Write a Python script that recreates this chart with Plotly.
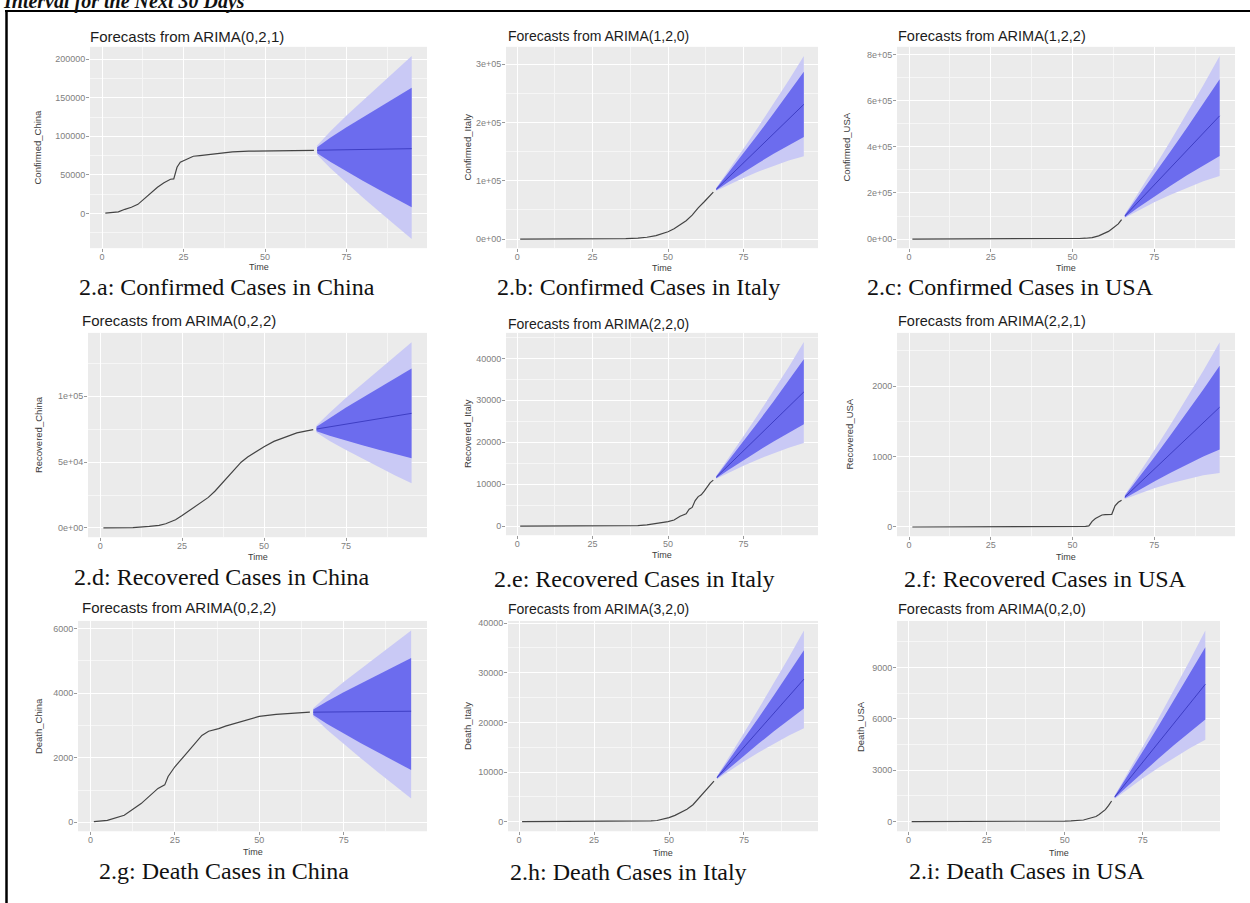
import plotly.graph_objects as go

W, H = 1250, 903

# ---------------- data ----------------
FC_T = [66, 70, 75, 80, 85, 90, 95]

# 2.a Confirmed China  ARIMA(0,2,1)
china_conf_t = [1, 3, 5, 7, 9, 11, 13, 15, 17, 19, 21, 22, 23, 24, 26, 28, 30, 35, 40, 45, 50, 55, 60, 65]
china_conf = [550, 900, 2100, 5500, 8100, 11900, 19700, 27400, 34100, 39800, 44400, 44800, 59900, 66400,
              70500, 74200, 75100, 77800, 79900, 80700, 80900, 81000, 81300, 81800]
china_conf_mean = [82000, 82300, 82600, 82900, 83300, 83600, 84000]
china_conf_hi80 = [85950, 98100, 111830, 124770, 137810, 150750, 163000]
china_conf_lo80 = [78200, 67100, 54480, 42620, 30860, 19000, 8000]
china_conf_hi95 = [88000, 106300, 127000, 146500, 166100, 185600, 204000]
china_conf_lo95 = [76150, 58900, 39310, 20890, 2570, -15850, -33000]

# 2.b Confirmed Italy  ARIMA(1,2,0)
italy_conf_t = [1, 10, 20, 30, 33, 36, 40, 43, 46, 48, 50, 52, 54, 56, 58, 60, 62, 64, 65]
italy_conf = [0, 3, 3, 3, 155, 650, 1700, 3100, 5900, 9200, 12500, 17700, 24700, 31500, 41000, 53600,
              63900, 74400, 80600]
italy_conf_mean = [85500, 105600, 130700, 155800, 180900, 206000, 231000]
italy_conf_hi80 = [87180, 113440, 146940, 181000, 215620, 250800, 287000]
italy_conf_lo80 = [83820, 97760, 114460, 130600, 146180, 161200, 175000]
italy_conf_hi95 = [87990, 117220, 154770, 193150, 232360, 272400, 314000]
italy_conf_lo95 = [82830, 93140, 104890, 115750, 125720, 134800, 142000]

# 2.c Confirmed USA  ARIMA(1,2,2)
usa_conf_t = [1, 10, 20, 30, 40, 45, 48, 50, 52, 54, 56, 58, 60, 61, 62, 63, 64, 65]
usa_conf = [1, 8, 13, 15, 30, 217, 600, 1300, 2200, 3500, 6400, 13700, 25500, 33300, 43800, 53700,
            65800, 83800]
usa_conf_mean = [100000, 160000, 235000, 310000, 385000, 460000, 535000]
usa_conf_hi80 = [104770, 182260, 281110, 381550, 483580, 587200, 694000]
usa_conf_lo80 = [94780, 135640, 184540, 231700, 277120, 320800, 361000]
usa_conf_hi95 = [107800, 196400, 310400, 427000, 546200, 668000, 795000]
usa_conf_lo95 = [92170, 123460, 159310, 192550, 223180, 251200, 274000]

# 2.d Recovered China  ARIMA(0,2,2)
china_rec_t = [1, 5, 10, 15, 18, 20, 23, 25, 28, 30, 33, 35, 38, 40, 43, 45, 48, 50, 53, 55, 58, 60, 63, 65]
china_rec = [28, 50, 250, 1150, 2000, 3200, 6200, 9400, 14400, 18200, 23200, 27900, 36100, 42200, 49900,
             53900, 58800, 61700, 65700, 67700, 70500, 72200, 73700, 74700]
china_rec_mean = [75100, 76700, 78800, 80800, 82900, 84900, 87000]
china_rec_hi80 = [76800, 83500, 91380, 98820, 106360, 113800, 121000]
china_rec_lo80 = [73400, 69900, 66220, 62780, 59440, 56000, 53000]
china_rec_hi95 = [77800, 87500, 98780, 109420, 120160, 130800, 141000]
china_rec_lo95 = [72450, 66100, 59190, 52710, 46330, 39850, 34000]

# 2.e Recovered Italy  ARIMA(2,2,0)
italy_rec_t = [1, 10, 20, 30, 38, 40, 43, 45, 47, 49, 50, 52, 54, 56, 57, 58, 59, 60, 61, 62, 63, 64, 65]
italy_rec = [0, 0, 0, 1, 45, 83, 276, 523, 622, 1004, 1045, 1439, 2335, 2941, 4025, 4440, 6072, 7024,
             7432, 8326, 9362, 10361, 10950]
italy_rec_mean = [11650, 14450, 17950, 21450, 24950, 28450, 32000]
italy_rec_hi80 = [11884, 15542, 20212, 24960, 29786, 34690, 39800]
italy_rec_lo80 = [11419, 13372, 15717, 17985, 20176, 22290, 24300]
italy_rec_hi95 = [12007, 16116, 21401, 26805, 32328, 37970, 43900]
italy_rec_lo95 = [11284, 12742, 14412, 15960, 17386, 18690, 19800]

# 2.f Recovered USA  ARIMA(2,2,1)
usa_rec_t = [1, 30, 31, 54, 55, 56, 57, 58, 59, 60, 61, 62, 63, 64, 65]
usa_rec = [0, 0, 6, 8, 15, 80, 120, 150, 170, 175, 178, 180, 300, 350, 380]
usa_rec_mean = [425, 600, 820, 1040, 1260, 1480, 1700]
usa_rec_hi80 = [443, 683, 991, 1306, 1626, 1952, 2290]
usa_rec_lo80 = [407, 516, 646, 770, 888, 1000, 1100]
usa_rec_hi95 = [453, 729, 1088, 1456, 1833, 2219, 2624]
usa_rec_lo95 = [397, 469, 549, 620, 682, 734, 767]

# 2.g Death China  ARIMA(0,2,2)
china_death_t = [1, 5, 10, 15, 20, 22, 23, 25, 28, 30, 33, 35, 38, 40, 45, 50, 55, 60, 65]
china_death = [20, 60, 220, 580, 1050, 1160, 1420, 1720, 2080, 2320, 2690, 2820, 2900, 2980, 3130, 3280,
               3340, 3380, 3410]
china_death_mean = [3411, 3415, 3420, 3425, 3430, 3435, 3440]
china_death_hi80 = [3494, 3745, 4031, 4300, 4569, 4838, 5090]
china_death_lo80 = [3320, 3051, 2747, 2460, 2174, 1888, 1620]
china_death_hi95 = [3536, 3915, 4345, 4750, 5155, 5560, 5940]
china_death_lo95 = [3276, 2875, 2421, 1994, 1567, 1140, 740]

# 2.h Death Italy  ARIMA(3,2,0)
italy_death_t = [1, 20, 30, 32, 35, 38, 40, 42, 44, 46, 48, 50, 52, 54, 56, 58, 60, 62, 64, 65]
italy_death = [0, 0, 1, 3, 12, 29, 34, 79, 148, 233, 463, 827, 1266, 1809, 2503, 3405, 4825, 6077, 7503, 8165]
italy_death_mean = [8850, 11590, 15010, 18430, 21850, 25270, 28700]
italy_death_hi80 = [9024, 12402, 16692, 21040, 25446, 29910, 34500]
italy_death_lo80 = [8673, 10764, 13299, 15775, 18192, 20550, 22800]
italy_death_hi95 = [9144, 12962, 17852, 22840, 27926, 33110, 38500]
italy_death_lo95 = [8553, 10204, 12139, 13975, 15712, 17350, 18800]

# 2.i Death USA  ARIMA(0,2,0)
usa_death_t = [1, 20, 30, 38, 40, 45, 50, 52, 54, 56, 58, 60, 61, 62, 63, 64, 65]
usa_death = [0, 0, 0, 0, 1, 12, 36, 50, 63, 97, 200, 302, 414, 553, 704, 942, 1209]
usa_death_mean = [1440, 2340, 3480, 4610, 5750, 6880, 8020]
usa_death_hi80 = [1505, 2642, 4106, 5582, 7089, 8608, 10180]
usa_death_lo80 = [1378, 2052, 2883, 3683, 4473, 5232, 5960]
usa_death_hi95 = [1534, 2780, 4391, 6023, 7697, 9392, 11160]
usa_death_lo95 = [1343, 1886, 2540, 3152, 3741, 4288, 4780]

# tick labels
x_ticks = [0, 25, 50, 75]
y_ticks = [
    ([0, 50000, 100000, 150000, 200000], ["0", "50000", "100000", "150000", "200000"]),
    ([0, 100000, 200000, 300000], ["0e+00", "1e+05", "2e+05", "3e+05"]),
    ([0, 200000, 400000, 600000, 800000], ["0e+00", "2e+05", "4e+05", "6e+05", "8e+05"]),
    ([0, 50000, 100000], ["0e+00", "5e+04", "1e+05"]),
    ([0, 10000, 20000, 30000, 40000], ["0", "10000", "20000", "30000", "40000"]),
    ([0, 1000, 2000], ["0", "1000", "2000"]),
    ([0, 2000, 4000, 6000], ["0", "2000", "4000", "6000"]),
    ([0, 10000, 20000, 30000, 40000], ["0", "10000", "20000", "30000", "40000"]),
    ([0, 3000, 6000, 9000], ["0", "3000", "6000", "9000"]),
]

titles = ["Forecasts from ARIMA(0,2,1)", "Forecasts from ARIMA(1,2,0)", "Forecasts from ARIMA(1,2,2)",
          "Forecasts from ARIMA(0,2,2)", "Forecasts from ARIMA(2,2,0)", "Forecasts from ARIMA(2,2,1)",
          "Forecasts from ARIMA(0,2,2)", "Forecasts from ARIMA(3,2,0)", "Forecasts from ARIMA(0,2,0)"]
y_titles = ["Confirmed_China", "Confirmed_Italy", "Confirmed_USA",
            "Recovered_China", "Recovered_Italy", "Recovered_USA",
            "Death_China", "Death_Italy", "Death_USA"]
captions = ["2.a: Confirmed Cases in China", "2.b: Confirmed Cases in Italy", "2.c: Confirmed Cases in USA",
            "2.d: Recovered Cases in China", "2.e: Recovered Cases in Italy", "2.f: Recovered Cases in USA",
            "2.g: Death Cases in China", "2.h: Death Cases in Italy", "2.i: Death Cases in USA"]

series = [
    (china_conf_t, china_conf, china_conf_mean, china_conf_lo80, china_conf_hi80, china_conf_lo95, china_conf_hi95),
    (italy_conf_t, italy_conf, italy_conf_mean, italy_conf_lo80, italy_conf_hi80, italy_conf_lo95, italy_conf_hi95),
    (usa_conf_t, usa_conf, usa_conf_mean, usa_conf_lo80, usa_conf_hi80, usa_conf_lo95, usa_conf_hi95),
    (china_rec_t, china_rec, china_rec_mean, china_rec_lo80, china_rec_hi80, china_rec_lo95, china_rec_hi95),
    (italy_rec_t, italy_rec, italy_rec_mean, italy_rec_lo80, italy_rec_hi80, italy_rec_lo95, italy_rec_hi95),
    (usa_rec_t, usa_rec, usa_rec_mean, usa_rec_lo80, usa_rec_hi80, usa_rec_lo95, usa_rec_hi95),
    (china_death_t, china_death, china_death_mean, china_death_lo80, china_death_hi80, china_death_lo95, china_death_hi95),
    (italy_death_t, italy_death, italy_death_mean, italy_death_lo80, italy_death_hi80, italy_death_lo95, italy_death_hi95),
    (usa_death_t, usa_death, usa_death_mean, usa_death_lo80, usa_death_hi80, usa_death_lo95, usa_death_hi95),
]

# ---------------- layout (pixels) ----------------
# panel boxes: x0, x1, y0(top), y1(bottom)
boxes = [
    (90, 427, 44, 246), (506, 818, 44, 246), (897, 1235, 44, 246),
    (88, 427, 331, 536), (506, 818, 331, 534), (897, 1235, 331, 535),
    (78, 427, 620, 831), (508, 818, 620, 831), (897, 1220, 620, 831),
]
title_pos = [(88, 34, 15), (506, 33, 14), (896, 33, 14.5),
             (80, 319, 15), (506, 322, 14), (896, 319, 14.5),
             (80, 607, 15), (506, 608, 14), (896, 608, 14.5)]
ytitle_x = [38, 468, 847, 38, 467, 850, 38, 467, 860]
time_y = [265, 266, 266, 556, 554, 556, 852, 853, 853]
caption_pos = [(77, 285), (495, 285), (865, 285),
               (72, 576), (492, 578), (902, 578),
               (97, 871), (508, 872), (907, 871)]

C_DARK = "#6C6CEE"
C_LIGHT = "#C9C9F5"
C_MEAN = "#3E3EC4"
C_OBS = "#444444"
BG = "#EBEBEB"


def px_x(v):
    return v / W


def px_y(v):
    return 1 - v / H


fig = go.Figure()
annotations = []
layout_axes = {}

for i in range(9):
    n = i + 1
    xa = "x" if n == 1 else f"x{n}"
    ya = "y" if n == 1 else f"y{n}"
    t, obs, mean, lo80, hi80, lo95, hi95 = series[i]

    fig.add_trace(go.Scatter(x=FC_T + FC_T[::-1], y=hi95 + lo95[::-1], fill="toself",
                             fillcolor=C_LIGHT, line=dict(width=0), mode="lines",
                             hoverinfo="skip", showlegend=False, xaxis=xa, yaxis=ya))
    fig.add_trace(go.Scatter(x=FC_T + FC_T[::-1], y=hi80 + lo80[::-1], fill="toself",
                             fillcolor=C_DARK, line=dict(width=0), mode="lines",
                             hoverinfo="skip", showlegend=False, xaxis=xa, yaxis=ya))
    fig.add_trace(go.Scatter(x=FC_T, y=mean, mode="lines", line=dict(color=C_MEAN, width=1),
                             showlegend=False, xaxis=xa, yaxis=ya))
    fig.add_trace(go.Scatter(x=t, y=obs, mode="lines", line=dict(color=C_OBS, width=1.2),
                             showlegend=False, xaxis=xa, yaxis=ya))

    allv = obs + lo95 + hi95
    lo, hi = min(allv), max(allv)
    pad = 0.05 * (hi - lo)
    xlo, xhi = 1, 95
    xpad = 0.05 * (xhi - xlo)

    x0, x1, y0, y1 = boxes[i]
    tv, tt = y_ticks[i]
    step = tv[1] - tv[0]
    yminor = [tv[0] - step / 2] + [v + step / 2 for v in tv]

    tickfont = dict(family="Liberation Sans, Arial", size=9, color="#808080")
    layout_axes["xaxis" if n == 1 else f"xaxis{n}"] = dict(
        domain=[px_x(x0), px_x(x1)], anchor=ya, range=[xlo - xpad, xhi + xpad],
        tickmode="array", tickvals=x_ticks, ticktext=[str(v) for v in x_ticks],
        ticks="outside", ticklen=3, tickwidth=1, tickcolor="#9a9a9a", tickfont=tickfont,
        ticklabelstandoff=-3,
        showgrid=True, gridcolor="white", gridwidth=1.2, zeroline=False, showline=False,
        minor=dict(tickmode="array", tickvals=[12.5, 37.5, 62.5, 87.5], showgrid=True,
                   gridcolor="#F6F6F6", gridwidth=0.6, ticks=""),
        fixedrange=True)
    layout_axes["yaxis" if n == 1 else f"yaxis{n}"] = dict(
        domain=[px_y(y1), px_y(y0)], anchor=xa, range=[lo - pad, hi + pad],
        tickmode="array", tickvals=tv, ticktext=tt,
        ticks="outside", ticklen=3, tickwidth=1, tickcolor="#9a9a9a", tickfont=tickfont,
        ticklabelstandoff=-1,
        showgrid=True, gridcolor="white", gridwidth=1.2, zeroline=False, showline=False,
        minor=dict(tickmode="array", tickvals=yminor, showgrid=True,
                   gridcolor="#F6F6F6", gridwidth=0.6, ticks=""),
        fixedrange=True)

    tx, ty, tsize = title_pos[i]
    annotations.append(dict(text=titles[i], x=px_x(tx), y=px_y(ty), xref="paper", yref="paper",
                            xanchor="left", yanchor="middle", showarrow=False,
                            font=dict(family="Liberation Sans, Arial", size=tsize, color="#1c1c1c")))
    annotations.append(dict(text=y_titles[i], x=px_x(ytitle_x[i]), y=px_y((y0 + y1) / 2),
                            xref="paper", yref="paper", xanchor="center", yanchor="middle",
                            textangle=-90, showarrow=False,
                            font=dict(family="Liberation Sans, Arial", size=9.5, color="#3c3c3c")))
    annotations.append(dict(text="Time", x=px_x((x0 + x1) / 2), y=px_y(time_y[i]),
                            xref="paper", yref="paper", xanchor="center", yanchor="middle",
                            showarrow=False,
                            font=dict(family="Liberation Sans, Arial", size=9, color="#3c3c3c")))
    cx, cy = caption_pos[i]
    annotations.append(dict(text=captions[i], x=px_x(cx), y=px_y(cy), xref="paper", yref="paper",
                            xanchor="left", yanchor="middle", showarrow=False,
                            font=dict(family="Liberation Serif, Times New Roman, serif", size=24,
                                      color="#111111")))

# cut-off heading at the very top
annotations.append(dict(text="<b><i>Interval for the Next 30 Days</i></b>", x=px_x(1), y=px_y(-2),
                        xref="paper", yref="paper", xanchor="left", yanchor="middle",
                        showarrow=False,
                        font=dict(family="Liberation Serif, Times New Roman, serif", size=20,
                                  color="#111111")))

shapes = [
    dict(type="line", xref="paper", yref="paper", x0=px_x(5), x1=px_x(1250), y0=px_y(8), y1=px_y(8),
         line=dict(color="black", width=2)),
    dict(type="line", xref="paper", yref="paper", x0=px_x(6.5), x1=px_x(6.5), y0=px_y(7), y1=px_y(903),
         line=dict(color="black", width=2.5)),
]

fig.update_layout(
    width=W, height=H, margin=dict(l=0, r=0, t=0, b=0),
    paper_bgcolor="white", plot_bgcolor=BG,
    showlegend=False, annotations=annotations, shapes=shapes,
    **layout_axes,
)

fig.write_html("out.html", config={"displayModeBar": False},
               post_script="document.body.style.margin='0';document.body.style.padding='0';"
                           "document.body.style.overflow='hidden';")
